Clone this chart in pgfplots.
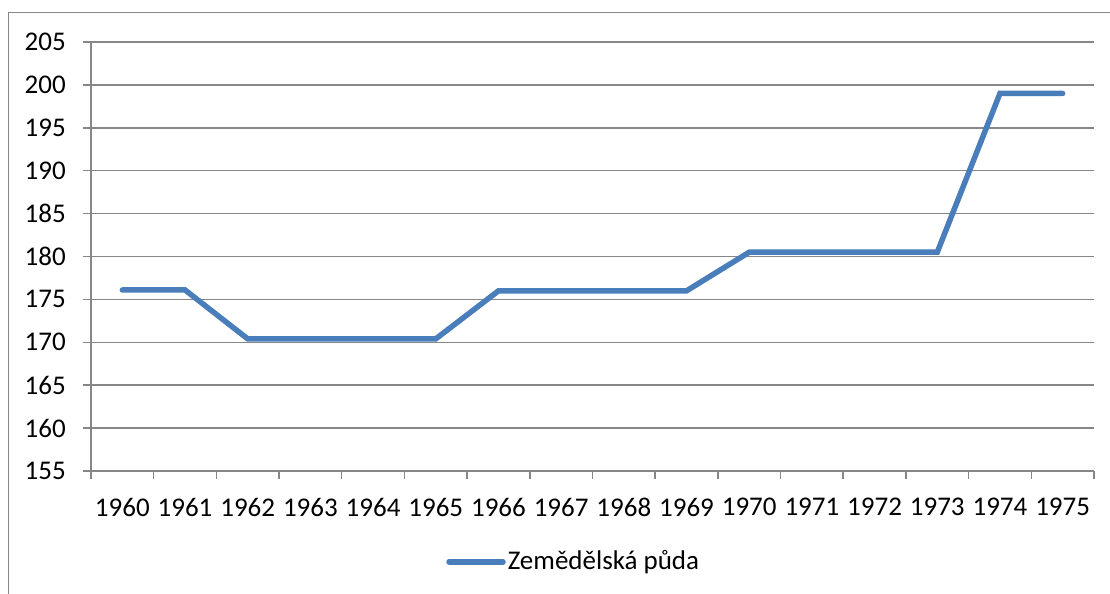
\documentclass[border=0pt]{standalone}
\usepackage{fontspec}
\setmainfont{Carlito}
\usepackage{pgfplots}
\pgfplotsset{compat=1.18}
\definecolor{linecol}{HTML}{4A7EBB}
\definecolor{gridcol}{HTML}{878787}
\begin{document}
\fontsize{27bp}{32bp}\selectfont
\begin{tikzpicture}
\useasboundingbox (0,0) rectangle (1110bp,594bp);
\fill[white] (0,0) rectangle (1110bp,594bp);
\draw[gridcol, line width=1.2bp] (8.5bp,0) -- (8.5bp,581.5bp) -- (1110bp,581.5bp);
\begin{axis}[
  at={(91bp,123bp)}, anchor=south west,
  scale only axis, width=1003bp, height=429bp,
  xmin=-0.5, xmax=15.5, ymin=155, ymax=205,
  ytick={155,160,...,205},
  xtick={0,...,15},
  xticklabels={1960,1961,1962,1963,1964,1965,1966,1967,1968,1969,1970,1971,1972,1973,1974,1975},
  minor xtick={-0.5,0.5,...,15.5},
  axis lines=left,
  axis line style={-, draw=gridcol, line width=1.5bp},
  ymajorgrids,
  grid style={draw=gridcol, line width=1.5bp},
  tick align=outside,
  major tick length=8bp, minor tick length=8bp,
  ytick style={draw=gridcol, line width=1.5bp},
  xtick style={draw=none},
  minor x tick style={draw=gridcol, line width=1.5bp},
  tick label style={font=\fontsize{27bp}{32bp}\selectfont, text=black},
  yticklabel style={inner sep=0pt, xshift=-17bp},
  xticklabel style={inner sep=0pt, yshift=-19bp},
  /pgf/number format/assume math mode=true,
  /pgf/number format/1000 sep={},
  legend style={draw=none, fill=none, at={(0.354,-0.212)}, anchor=west,
    inner sep=0pt, font=\fontsize{27bp}{32bp}\selectfont,
    /tikz/every even column/.append style={column sep=0pt},
    nodes={inner xsep=2pt}},
  legend image code/.code={\draw[#1] (0bp,0bp) -- (54bp,0bp);},
  clip=false,
]
\addplot[linecol, line width=5.5bp, line cap=round, line join=miter] coordinates {
(0,176.1) (1,176.1) (2,170.4) (3,170.4) (4,170.4) (5,170.4)
(6,176.0) (7,176.0) (8,176.0) (9,176.0)
(10,180.5) (11,180.5) (12,180.5) (13,180.5)
(14,199.0) (15,199.0)
};
\addlegendentry{Zemědělská půda}
\end{axis}
\end{tikzpicture}
\end{document}
